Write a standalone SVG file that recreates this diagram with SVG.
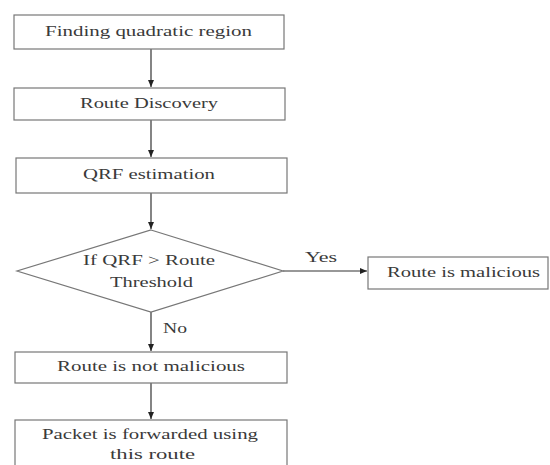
<svg xmlns="http://www.w3.org/2000/svg" width="550" height="465" viewBox="0 0 550 465">
<defs>
<marker id="ah" markerWidth="8" markerHeight="8" refX="7" refY="4" orient="auto" markerUnits="userSpaceOnUse">
<path d="M0,1 L7,4 L0,7 Z" fill="#222"/>
</marker>
</defs>
<style>
.box{fill:#fff;stroke:#777;stroke-width:1.2}
.t{font-family:'Liberation Serif','DejaVu Serif','Times New Roman',serif;font-size:15px;fill:#3a3a3a}
.c{stroke:#333;stroke-width:1.2;fill:none;marker-end:url(#ah)}
</style>
<rect width="550" height="465" fill="#fff"/>
<g id="connectors">
<line class="c" x1="151" y1="49" x2="151" y2="87"/>
<line class="c" x1="151" y1="120" x2="151" y2="157"/>
<line class="c" x1="151" y1="193" x2="151" y2="229"/>
<line class="c" x1="151" y1="312" x2="151" y2="351"/>
<line class="c" x1="151" y1="383" x2="151" y2="419"/>
<line class="c" x1="283" y1="271" x2="367" y2="271"/>
<text class="t" x="163" y="333" textLength="24" lengthAdjust="spacingAndGlyphs">No</text>
<text class="t" x="305" y="262" textLength="32" lengthAdjust="spacingAndGlyphs">Yes</text>
</g>
<g id="n1">
<rect class="box" x="14" y="15" width="270" height="34"/>
<text class="t" x="45" y="36" textLength="207" lengthAdjust="spacingAndGlyphs">Finding quadratic region</text>
</g>
<g id="n2">
<rect class="box" x="14" y="88" width="271" height="32"/>
<text class="t" x="80" y="108" textLength="138" lengthAdjust="spacingAndGlyphs">Route Discovery</text>
</g>
<g id="n3">
<rect class="box" x="16" y="158" width="271" height="35"/>
<text class="t" x="83" y="179" textLength="132" lengthAdjust="spacingAndGlyphs">QRF estimation</text>
</g>
<g id="n4">
<polygon class="box" points="151,230 283,271 151,312 17,271"/>
<text class="t" x="83" y="265" textLength="132" lengthAdjust="spacingAndGlyphs">If QRF &gt; Route</text>
<text class="t" x="110" y="287" textLength="83" lengthAdjust="spacingAndGlyphs">Threshold</text>
</g>
<g id="n5">
<rect class="box" x="368" y="257" width="180" height="32"/>
<text class="t" x="387" y="277" textLength="153" lengthAdjust="spacingAndGlyphs">Route is malicious</text>
</g>
<g id="n6">
<rect class="box" x="15" y="352" width="272" height="31"/>
<text class="t" x="57" y="371" textLength="188" lengthAdjust="spacingAndGlyphs">Route is not malicious</text>
</g>
<g id="n7">
<rect class="box" x="15" y="420" width="272" height="50"/>
<text class="t" x="42" y="439" textLength="216" lengthAdjust="spacingAndGlyphs">Packet is forwarded using</text>
<text class="t" x="110" y="459" textLength="85" lengthAdjust="spacingAndGlyphs">this route</text>
</g>
</svg>
